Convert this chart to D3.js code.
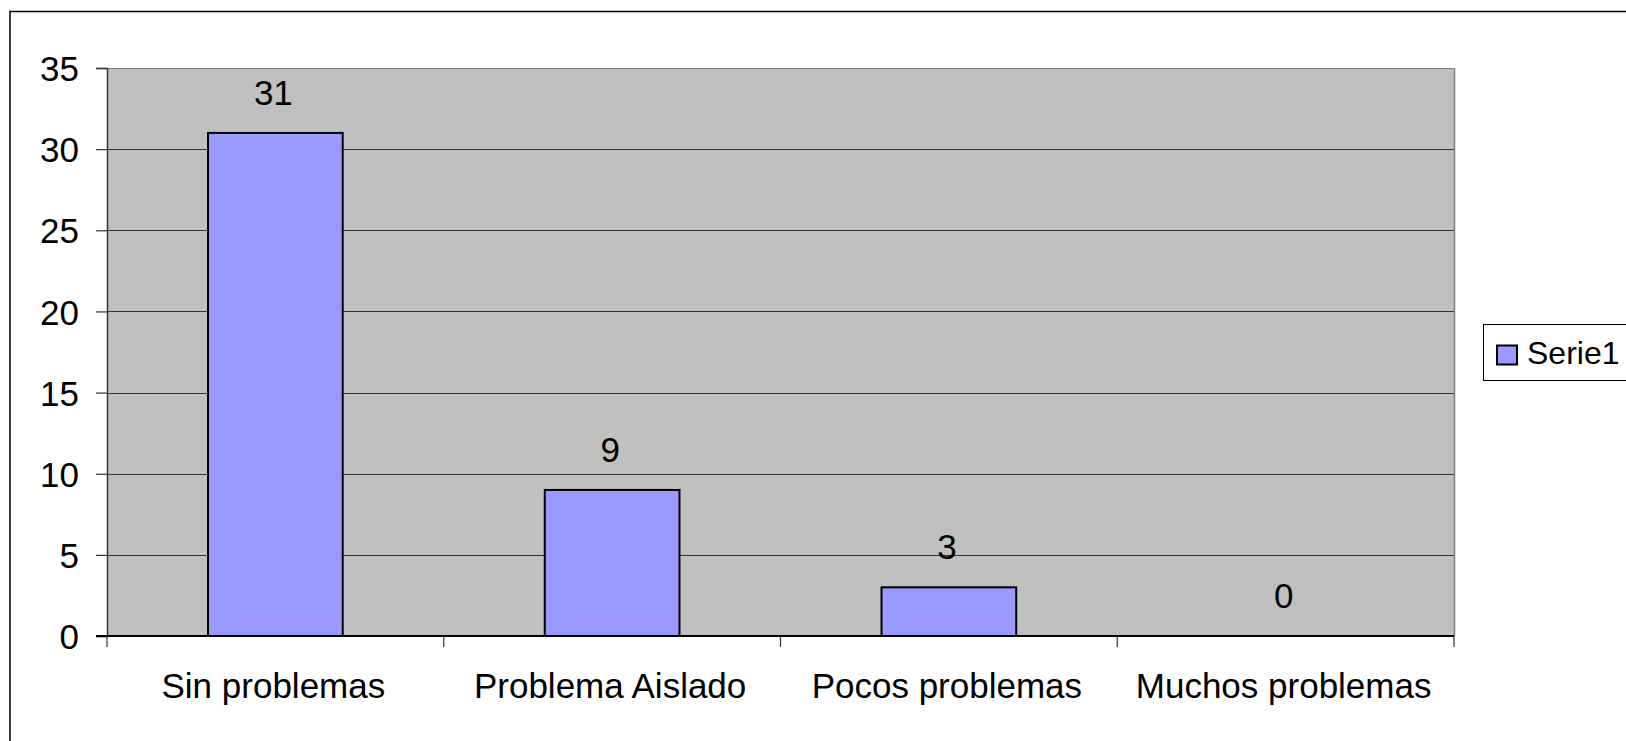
<!DOCTYPE html>
<html><head><meta charset="utf-8">
<script src="https://cdn.jsdelivr.net/npm/d3@7"></script>
<style>body{margin:0;background:#fff;} svg{display:block;} text{font-family:"Liberation Sans",Arial,sans-serif;fill:#000;}</style>
</head><body>
<svg id="c" width="1626" height="741"></svg>
<script>
const categories = ["Sin problemas","Problema Aislado","Pocos problemas","Muchos problemas"];
const values = [31, 9, 3, 0];
const yTicks = [0,5,10,15,20,25,30,35];
const seriesName = "Serie1";

const svg = d3.select("#c");
const L = 107, R = 1454, T = 68, B = 636;
const fs = 35;

// outer border
svg.append("rect").attr("x",10).attr("y",11.5).attr("width",1700).attr("height",800)
  .attr("fill","#fff").attr("stroke","#000").attr("stroke-width",1.5);

const x = d3.scaleBand().domain(categories).range([L,R]).paddingInner(0).paddingOuter(0);
const y = d3.scaleLinear().domain([0,35]).range([B,T]);

// plot bg
svg.append("rect").attr("x",L).attr("y",T).attr("width",R-L).attr("height",B-T).attr("fill","#C0C0C0");

// gridlines
svg.append("g").selectAll("line").data(yTicks.filter(d=>d>0)).join("line")
  .attr("x1",L).attr("x2",R).attr("y1",d=>Math.round(y(d))+0.5).attr("y2",d=>Math.round(y(d))+0.5)
  .attr("stroke",d=>d===35?"#808080":"#333").attr("stroke-width",1.2);

// plot right border
svg.append("line").attr("x1",R+0.5).attr("x2",R+0.5).attr("y1",T).attr("y2",B).attr("stroke","#808080").attr("stroke-width",1.5);

// bars
const bw = x.bandwidth()*0.4;
svg.append("g").selectAll("rect").data(values.map((v,i)=>({c:categories[i],v}))).join("rect")
  .attr("x",d=>x(d.c)+x.bandwidth()/2-bw/2).attr("y",d=>y(d.v))
  .attr("width",bw).attr("height",d=>B-y(d.v))
  .attr("fill","#9999FF").attr("stroke","#000").attr("stroke-width",2)
  .style("display",d=>d.v===0?"none":null);

// value labels
svg.append("g").selectAll("text").data(values.map((v,i)=>({c:categories[i],v}))).join("text")
  .attr("x",d=>x(d.c)+x.bandwidth()/2-2).attr("y",d=>y(d.v)-28)
  .attr("text-anchor","middle").attr("font-size",fs).text(d=>d.v);

// y axis
const yAxis = d3.axisLeft(y).tickValues(yTicks).tickSize(11).tickPadding(17);
const gy = svg.append("g").attr("transform",`translate(${L},0)`).call(yAxis);
gy.select(".domain").attr("stroke","#333").attr("stroke-width",1.5);
gy.selectAll(".tick line").attr("stroke","#333").attr("stroke-width",1.2);
gy.selectAll(".tick text").attr("font-size",fs).attr("font-family","Liberation Sans, Arial, sans-serif").attr("dy","0.36em").attr("fill","#000");

// x axis
svg.append("line").attr("x1",L-11).attr("x2",R).attr("y1",B).attr("y2",B).attr("stroke","#000").attr("stroke-width",1.8);
const bounds = categories.map(c=>x(c)).concat([R]);
svg.append("g").selectAll("line").data(bounds).join("line")
  .attr("x1",d=>d).attr("x2",d=>d).attr("y1",B).attr("y2",B+11).attr("stroke","#333").attr("stroke-width",1.2);
svg.append("g").selectAll("text").data(categories).join("text")
  .attr("x",d=>x(d)+x.bandwidth()/2-2).attr("y",698).attr("text-anchor","middle")
  .attr("font-size",fs).text(d=>d);

// legend
svg.append("rect").attr("x",1483.5).attr("y",324.5).attr("width",200).attr("height",56)
  .attr("fill","#fff").attr("stroke","#000").attr("stroke-width",1);
svg.append("rect").attr("x",1497).attr("y",345.5).attr("width",20).attr("height",19)
  .attr("fill","#9999FF").attr("stroke","#000").attr("stroke-width",2);
svg.append("text").attr("x",1527).attr("y",364).attr("font-size",32).text(seriesName);
</script>
</body></html>
